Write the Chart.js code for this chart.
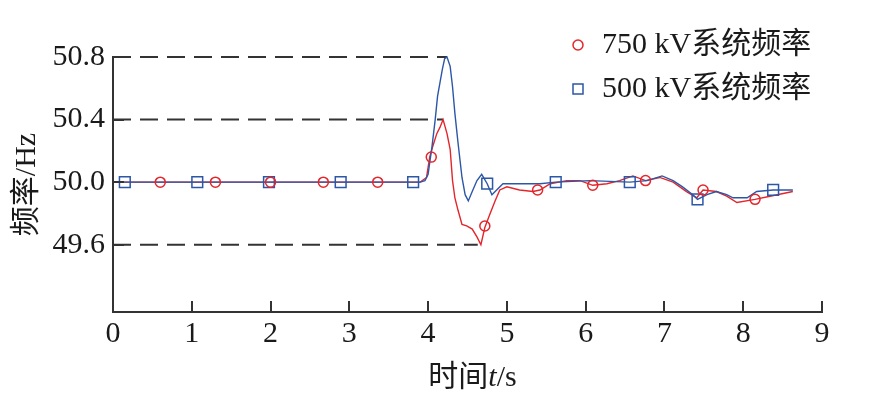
<!DOCTYPE html>
<html>
<head>
<meta charset="utf-8">
<script src="https://cdn.jsdelivr.net/npm/chart.js@4.4.0/dist/chart.umd.min.js"></script>
<style>
  html, body { margin: 0; padding: 0; background: #fff; }
  #wrap { width: 876px; height: 404px; }
</style>
</head>
<body>
<div id="wrap"><canvas id="myChart" width="876" height="404"></canvas></div>
<script>
// values
const xTicks = [0, 1, 2, 3, 4, 5, 6, 7, 8, 9]
const yTicks = [49.6, 50.0, 50.4, 50.8]

const redT = [0, 3.90, 3.98, 4.02, 4.06, 4.11, 4.15, 4.19, 4.24, 4.28, 4.31, 4.34, 4.38, 4.43, 4.49, 4.56, 4.62, 4.67, 4.72, 4.78, 4.85, 4.91, 5.00, 5.16, 5.33, 5.42, 5.55, 5.76, 5.93, 6.09, 6.27, 6.43, 6.60, 6.76, 6.94, 7.11, 7.28, 7.41, 7.49, 7.66, 7.79, 7.92, 8.15, 8.34, 8.63]
const redV = [50.0, 50.0, 50.03, 50.16, 50.23, 50.31, 50.35, 50.40, 50.31, 50.21, 50.01, 49.90, 49.82, 49.73, 49.72, 49.70, 49.65, 49.60, 49.71, 49.79, 49.88, 49.95, 49.97, 49.95, 49.94, 49.95, 49.99, 50.01, 50.01, 49.98, 49.99, 50.01, 50.04, 50.01, 50.03, 50.0, 49.94, 49.90, 49.95, 49.94, 49.91, 49.87, 49.89, 49.91, 49.94]

const blueT = [0, 3.90, 3.96, 4.00, 4.05, 4.09, 4.12, 4.18, 4.21, 4.24, 4.28, 4.31, 4.34, 4.38, 4.43, 4.47, 4.51, 4.56, 4.62, 4.68, 4.75, 4.81, 4.87, 4.95, 5.16, 5.42, 5.62, 6.05, 6.56, 6.78, 6.97, 7.11, 7.23, 7.36, 7.42, 7.54, 7.66, 7.79, 7.87, 8.05, 8.17, 8.38, 8.63]
const blueV = [50.0, 50.0, 50.01, 50.05, 50.23, 50.40, 50.55, 50.72, 50.79, 50.80, 50.74, 50.61, 50.44, 50.25, 50.03, 49.92, 49.88, 49.94, 50.01, 50.05, 49.99, 49.92, 49.95, 49.99, 49.99, 49.99, 50.0, 50.01, 50.0, 50.01, 50.04, 50.01, 49.97, 49.92, 49.89, 49.92, 49.94, 49.92, 49.90, 49.90, 49.94, 49.95, 49.95]

const redMarkT = [0.60, 1.30, 2.00, 2.67, 3.36, 4.04, 4.72, 5.39, 6.09, 6.76, 7.49, 8.15]
const redMarkV = [50.0, 50.0, 50.0, 50.0, 50.0, 50.16, 49.72, 49.95, 49.98, 50.01, 49.95, 49.89]
const blueMarkT = [0.15, 1.07, 1.98, 2.89, 3.81, 4.75, 5.62, 6.56, 7.42, 8.38]
const blueMarkV = [50.0, 50.0, 50.0, 50.0, 50.0, 49.99, 50.0, 50.0, 49.89, 49.95]

// dashed guide lines: level and where they stop
const guideLevels = [50.8, 50.4, 49.6]
const guideEnds = [4.24, 4.19, 4.63]

const RED = "#e3262b"
const BLUE = "#2c57a7"
const INK = "#1a1a1a"
const FONT = "'Liberation Serif', 'Noto Sans CJK SC', serif"

const pts = (ts, vs) => ts.map((t, i) => ({ x: t, y: vs[i] }))

const guides = guideLevels.map((v, i) => ({
  type: "line",
  data: [{ x: 0, y: v }, { x: guideEnds[i], y: v }],
  borderColor: "#333",
  borderWidth: 2,
  borderDash: [18, 9],
  pointRadius: 0,
  clip: false,
}))

const decor = {
  id: "decor",
  afterDraw(chart) {
    const { ctx, scales: { x, y } } = chart
    const area = chart.chartArea
    ctx.save()
    // inward tick marks
    ctx.strokeStyle = "#333"
    ctx.lineWidth = 2
    xTicks.forEach(t => {
      const px = Math.round(x.getPixelForValue(t))
      ctx.beginPath()
      ctx.moveTo(px, area.bottom)
      ctx.lineTo(px, area.bottom - 11)
      ctx.stroke()
    })
    yTicks.forEach(v => {
      const py = Math.round(y.getPixelForValue(v))
      ctx.beginPath()
      ctx.moveTo(area.left, py)
      ctx.lineTo(area.left + 11, py)
      ctx.stroke()
    })

    // x title with italic t
    ctx.fillStyle = INK
    ctx.textBaseline = "middle"
    const parts = [["时间", "30px " + FONT], ["t", "italic 30px " + FONT], ["/s", "30px " + FONT]]
    let w = 0
    parts.forEach(p => { ctx.font = p[1]; w += ctx.measureText(p[0]).width })
    let cx = (area.left + area.right) / 2 + 5 - w / 2
    parts.forEach(p => {
      ctx.font = p[1]
      ctx.fillText(p[0], cx, 378)
      cx += ctx.measureText(p[0]).width
    })

    // legend
    const items = chart.data.datasets.slice(0, 2)
    items.forEach((ds, i) => {
      const ly = 45 + i * 44
      ctx.strokeStyle = ds.borderColor
      ctx.lineWidth = 1.5
      ctx.beginPath()
      if (ds.pointStyle === "circle") ctx.arc(578, ly, 5, 0, Math.PI * 2)
      else ctx.rect(573, ly - 5, 10, 10)
      ctx.stroke()
      ctx.fillStyle = INK
      ctx.font = "30px " + FONT
      ctx.textAlign = "left"
      ctx.fillText(ds.label, 602, ly)
    })
    ctx.restore()
  },
}

new Chart(document.getElementById("myChart"), {
  type: "line",
  data: {
    datasets: [
      {
        label: "750 kV系统频率",
        data: pts(redMarkT, redMarkV),
        showLine: false,
        pointStyle: "circle",
        pointRadius: 5,
        pointBorderWidth: 1.5,
        borderColor: RED,
        backgroundColor: "rgba(0,0,0,0)",
        clip: false,
      },
      {
        label: "500 kV系统频率",
        data: pts(blueMarkT, blueMarkV),
        showLine: false,
        pointStyle: "rect",
        pointRadius: 7.6,
        pointBorderWidth: 1.5,
        borderColor: BLUE,
        backgroundColor: "rgba(0,0,0,0)",
        clip: false,
      },
      {
        data: pts(blueT, blueV),
        borderColor: BLUE,
        borderWidth: 1.4,
        pointRadius: 0,
        clip: false,
      },
      {
        data: pts(redT, redV),
        borderColor: RED,
        borderWidth: 1.4,
        pointRadius: 0,
        clip: false,
      },
      ...guides,
    ],
  },
  options: {
    responsive: false,
    animation: false,
    layout: { padding: { top: 57, right: 54, left: 0, bottom: 0 } },
    plugins: { legend: { display: false }, tooltip: { enabled: false } },
    scales: {
      x: {
        type: "linear",
        min: 0,
        max: 9,
        afterBuildTicks: s => { s.ticks = xTicks.map(v => ({ value: v })) },
        afterFit: s => { s.height = 92 },
        grid: { drawOnChartArea: false, drawTicks: false },
        border: { color: "#333", width: 2 },
        ticks: { color: INK, font: { family: FONT, size: 30 }, padding: 4, maxRotation: 0 },
      },
      y: {
        type: "linear",
        min: 49.17,
        max: 50.8,
        afterBuildTicks: s => { s.ticks = yTicks.map(v => ({ value: v })) },
        afterFit: s => { s.width = 113 },
        grid: { drawOnChartArea: false, drawTicks: false },
        border: { color: "#333", width: 2 },
        ticks: { color: INK, font: { family: FONT, size: 30 }, padding: 8, callback: v => v.toFixed(1) },
        title: {
          display: true,
          text: "频率/Hz",
          color: INK,
          font: { family: FONT, size: 30 },
          padding: { top: 9, bottom: 0 },
        },
      },
    },
  },
  plugins: [decor],
})
</script>
</body>
</html>
